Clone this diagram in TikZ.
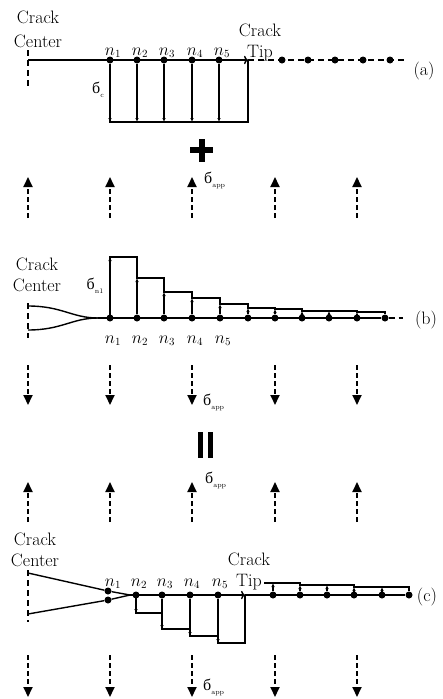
\documentclass[tikz,border=0pt]{standalone}
\usepackage{fontspec}
\newfontfamily\cyrfont{Liberation Serif}
\usetikzlibrary{arrows.meta}
\newcommand\sgm[1]{{\cyrfont\fontsize{16}{16}\selectfont б}\raisebox{-4pt}{\fontsize{7}{7}\selectfont #1}}

\tikzset{
  dot/.style={circle,fill=black,minimum size=7pt},
  crack/.style={line width=1.4pt},
  bar/.style={line width=1.2pt},
  load/.style={line width=1.2pt,-{Latex[length=4pt,width=3.5pt]}},
  app/.style={line width=1.8pt,dash pattern=on 5pt off 3pt,-{Triangle[length=10pt,width=9pt]}},
  nlab/.style={font=\fontsize{16}{16}\selectfont,anchor=base},
}

\begin{document}
\begin{tikzpicture}[x=1pt,y=-1pt,every node/.style={font=\fontsize{18}{21}\selectfont,inner sep=0pt}]
\useasboundingbox (0,0) rectangle (443,699);

% (a) crack with closing stress
\node[align=center] (cca) at (38,29) {Crack\\[3pt]Center};
\node[align=center] (cta) at (260,42) {Crack\\Tip};
\node (la) at (424,71) {(a)};
\node (sc) at (98,90) {\sgm{c}};
\coordinate (ctra) at (28,60);
\coordinate (tipa) at (248,60);
\coordinate (enda) at (405,60);
\draw[crack,dash pattern=on 6pt off 4pt] (28,50) -- (28,88);
\draw[crack,-{To[length=4pt]}] (ctra) -- (tipa);
\draw[crack,dash pattern=on 6pt off 4pt] (tipa) -- (enda);
\foreach \x [count=\i] in {110,137,164,192,219} {
  \node[dot] (a\i) at (\x,60) {};
  \node[nlab] at (\x+3,55) {$n_\i$};
}
\foreach \x [count=\i] in {282,308,335,363,390} \node[dot] (p\i) at (\x,60) {};
\draw[bar] (a1) -- (110,122) -- (248,122) -- (tipa);
\foreach \i in {1,...,5} \draw[load] (a\i) -- (a\i |- 0,122);

% plus
\draw[line width=6pt] (190,150) -- (213,150);
\draw[line width=6pt] (201.5,139) -- (201.5,162);

% applied stress, up
\foreach \x [count=\i] in {28,110,192,275,357} {
  \coordinate (u\i) at (\x,218);
  \coordinate (v\i) at (\x,177);
  \draw[app] (u\i) -- (v\i);
}
\node[anchor=west] (sa1) at (204,180) {\sgm{app}};

% (b) crack with node forces
\node[align=center] (ccb) at (37,275) {Crack\\Center};
\node (sn) at (95,286) {\sgm{n1}};
\node (lb) at (426,320) {(b)};
\coordinate (tb) at (98,318);
\coordinate (endb) at (403,318);
\draw[crack,dash pattern=on 6pt off 4pt] (28,303) -- (28,338);
\draw[crack] (28,306) .. controls (62,306) and (72,318) .. (tb);
\draw[crack] (28,330) .. controls (62,330) and (72,318) .. (tb);
\foreach \x [count=\i] in {110,137,164,192,220,248,275,302,329,357,385}
  \node[dot] (b\i) at (\x,318) {};
\foreach \x [count=\i] in {110,137,164,192,220}
  \node[nlab] at (\x+3,343) {$n_\i$};
\draw[crack] (tb) -- (b11);
\draw[crack,dash pattern=on 6pt off 4pt] (b11) -- (endb);
\draw[bar] (110,318) |- (137,257) |- (164,278) |- (192,292) |- (220,298) |- (248,304)
  |- (275,308) |- (302,309) |- (329,311) |- (357,311) |- (385,312) -- (b11);
\foreach \h [count=\i] in {257,278,292,298,304,308,309,311,311,312}
  \draw[load] (b\i) -- (b\i |- 0,\h);

% applied stress, down
\foreach \x [count=\i] in {28,110,192,275,357} {
  \coordinate (w\i) at (\x,365);
  \coordinate (z\i) at (\x,405);
  \draw[app] (w\i) -- (z\i);
}
\node[anchor=west] (sa2) at (203,402) {\sgm{app}};

% equals
\draw[line width=5pt] (200,432) -- (200,458);
\draw[line width=5pt] (210,432) -- (210,458);

% applied stress, up
\foreach \x [count=\i] in {28,110,192,275,357} {
  \coordinate (s\i) at (\x,522);
  \coordinate (t\i) at (\x,482);
  \draw[app] (s\i) -- (t\i);
}
\node[anchor=west] (sa3) at (205,480) {\sgm{app}};

% (c) sum
\node[align=center] (ccc) at (35,550) {Crack\\Center};
\node[align=center] (ctc) at (249,571) {Crack\\Tip};
\node (lc) at (427,597) {(c)};
\coordinate (tc) at (130,595);
\coordinate (tipc) at (245,595);
\draw[crack,dash pattern=on 6pt off 4pt] (28,570) -- (28,622);
\node[dot] (c1) at (108,591) {};
\node[dot] (c0) at (108,600) {};
\draw[crack] (28,573) -- (c1) -- (tc);
\draw[crack] (28,614) -- (c0) -- (tc);
\foreach \x [count=\i from 2] in {136,162,190,218} \node[dot] (c\i) at (\x,595) {};
\foreach \x [count=\i] in {111,137,163,190,218} \node[nlab] at (\x+2,586) {$n_\i$};
\foreach \x [count=\i] in {273,300,327,354,382,409} \node[dot] (d\i) at (\x,595) {};
\draw[crack,-{To[length=4pt]}] (tc) -- (tipc);
\draw[crack] (tipc) -- (d6);
\draw[bar] (136,595) |- (162,613) |- (190,629) |- (218,636) |- (245,643) -- (tipc);
\foreach \h [count=\i from 2] in {613,629,636,643}
  \draw[load] (c\i) -- (c\i |- 0,\h);
\draw[bar] (264,583) -| (300,585) -| (354,587) -| (d6);
\foreach \h [count=\i] in {583,585,585,587,587}
  \draw[load] (d\i) -- (d\i |- 0,\h);

% applied stress, down
\foreach \x [count=\i] in {28,110,192,275,357} {
  \coordinate (f\i) at (\x,655);
  \coordinate (g\i) at (\x,697);
  \draw[app] (f\i) -- (g\i);
}
\node[anchor=west] (sa4) at (203,687) {\sgm{app}};
\end{tikzpicture}
\end{document}
